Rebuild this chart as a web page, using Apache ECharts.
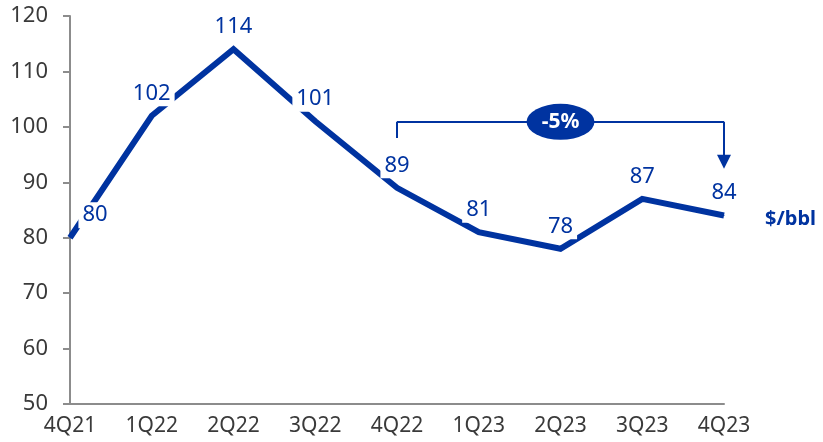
<!DOCTYPE html>
<html>
<head>
<meta charset="utf-8">
<script src="https://cdn.jsdelivr.net/npm/echarts@6/dist/echarts.min.js"></script>
<style>
  html, body { margin: 0; padding: 0; background: #fff; }
  #chart { width: 823px; height: 442px; }
</style>
</head>
<body>
<div id="chart"></div>
<script>
  // quarters and average price
  const quarters = ['4Q21', '1Q22', '2Q22', '3Q22', '4Q22', '1Q23', '2Q23', '3Q23', '4Q23'];
  const prices = [80, 102, 114, 101, 89, 81, 78, 87, 84];
  const yTicks = { min: 50, max: 120, step: 10 };
  // change 4Q22 -> 4Q23
  const changeText = '-5%';
  const unitText = '$/bbl';

  const blue = '#0033a0';
  const font = 'Noto Sans';

  const chart = echarts.init(document.getElementById('chart'));

  const seriesData = prices.map((v, i) => {
    const item = { value: v };
    // first label sits to the right of the axis
    if (i === 0) item.label = { offset: [25, 0] };
    return item;
  });

  const option = {
    animation: false,
    grid: { left: 70, right: 99, top: 16, bottom: 38 },
    xAxis: {
      type: 'category',
      data: quarters,
      boundaryGap: false,
      axisLine: { lineStyle: { color: '#8c8c8c', width: 2 } },
      axisTick: { show: false },
      axisLabel: { color: '#3a3a3a', fontSize: 21, fontFamily: font, margin: 12 },
      splitLine: { show: false }
    },
    yAxis: {
      type: 'value',
      min: yTicks.min,
      max: yTicks.max,
      interval: yTicks.step,
      axisLine: { show: true, lineStyle: { color: '#8c8c8c', width: 2 } },
      axisTick: { show: true, length: 7, lineStyle: { color: '#8c8c8c', width: 2 } },
      axisLabel: { color: '#3a3a3a', fontSize: 22, fontFamily: font, margin: 22 },
      splitLine: { show: false }
    },
    series: [
      {
        type: 'line',
        data: seriesData,
        symbol: 'circle',
        symbolSize: 1,
        showSymbol: true,
        lineStyle: { color: blue, width: 6, join: 'miter' },
        itemStyle: { color: blue },
        label: {
          show: true,
          position: 'top',
          distance: 9,
          color: blue,
          fontSize: 22,
          fontFamily: font,
          backgroundColor: '#fff',
          padding: [2, 4],
          formatter: p => Math.round(p.value)
        },
        endLabel: {
          show: true,
          formatter: unitText,
          color: blue,
          fontSize: 20,
          fontWeight: 'bold',
          fontFamily: font,
          offset: [33, 4]
        },
        markLine: {
          silent: true,
          animation: false,
          lineStyle: { color: blue, width: 2, type: 'solid' },
          label: { show: false },
          symbolSize: [14, 14],
          data: [
            [{ coord: [4, 98.0], symbol: 'none' }, { coord: [4, 100.9], symbol: 'none' }],
            [{ coord: [4, 100.9], symbol: 'none' }, { coord: [8, 100.9], symbol: 'none' }],
            [{ coord: [8, 100.9], symbol: 'none' }, { coord: [8, 93.7], symbol: 'triangle' }]
          ]
        },
        markPoint: {
          silent: true,
          animation: false,
          symbol: 'circle',
          symbolSize: [68, 36],
          itemStyle: { color: blue },
          label: {
            show: true,
            color: '#fff',
            fontSize: 21,
            fontWeight: 'bold',
            fontFamily: font,
            formatter: changeText
          },
          data: [{ coord: [6, 100.9] }]
        }
      }
    ]
  };

  chart.setOption(option);
</script>
</body>
</html>
